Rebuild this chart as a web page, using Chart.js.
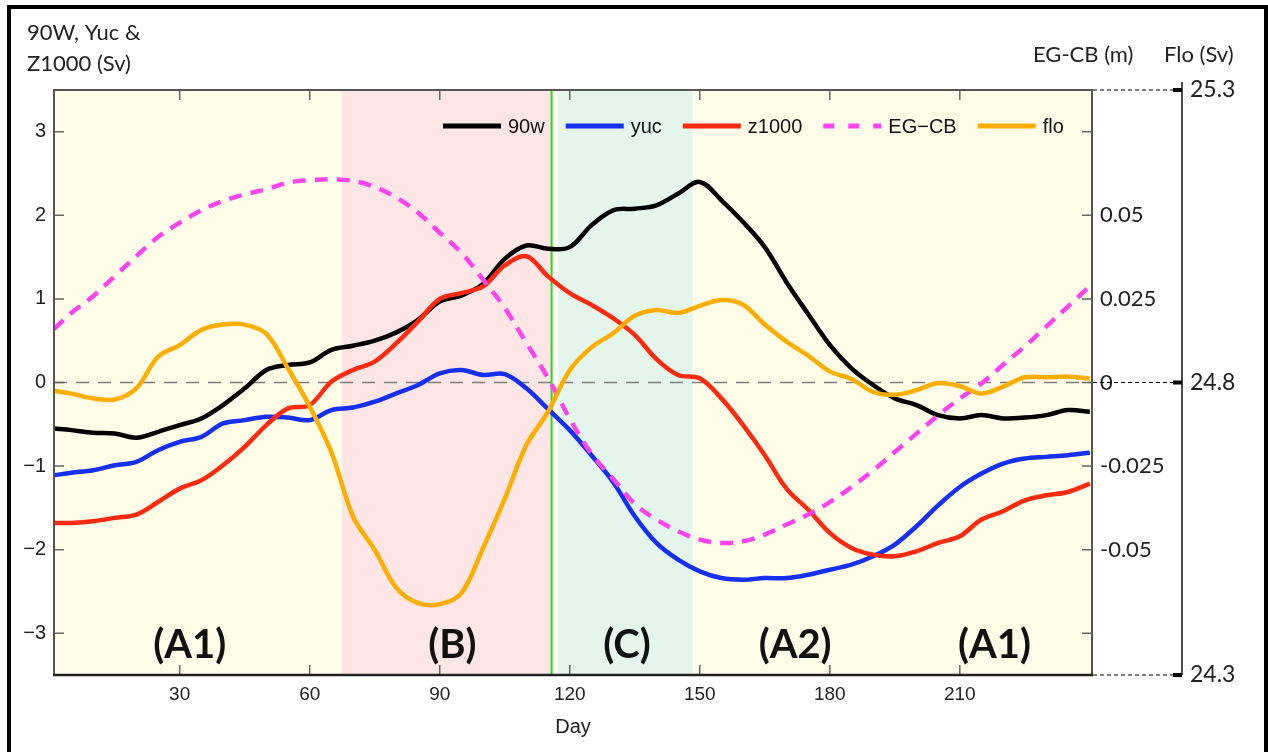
<!DOCTYPE html>
<html>
<head>
<meta charset="utf-8">
<title>90W, Yuc, Z1000, EG-CB and Flo by day</title>
<script src="https://cdn.jsdelivr.net/npm/chart.js@4/dist/chart.umd.min.js"></script>
<style>
  html, body { margin: 0; padding: 0; background: #ffffff; }
  #wrap { width: 1268px; height: 752px; position: relative; }
</style>
</head>
<body>
<div id="wrap"><canvas id="c" width="1268" height="752"></canvas></div>
<script>
// ---- data ----
const days = [1, 5, 10, 15, 20, 25, 30, 35, 40, 45, 50, 55, 60, 65, 70, 75, 80, 85, 90, 95,
  100, 105, 110, 115, 120, 125, 130, 135, 140, 145, 150, 155, 160, 165, 170, 175, 180, 185, 190, 195,
  200, 205, 210, 215, 220, 225, 230, 235, 240];

// transports (Sv)
const w90 = [-0.55, -0.57, -0.60, -0.61, -0.66, -0.59, -0.51, -0.43, -0.27, -0.07, 0.15, 0.21, 0.24, 0.39, 0.44, 0.50, 0.60, 0.75, 0.97, 1.04,
  1.18, 1.48, 1.64, 1.60, 1.62, 1.88, 2.06, 2.08, 2.12, 2.26, 2.40, 2.18, 1.92, 1.62, 1.20, 0.82, 0.45, 0.17, -0.03, -0.19,
  -0.27, -0.39, -0.43, -0.39, -0.43, -0.42, -0.39, -0.33, -0.35];
const yuc = [-1.11, -1.08, -1.05, -0.99, -0.95, -0.81, -0.71, -0.65, -0.49, -0.45, -0.41, -0.42, -0.45, -0.33, -0.30, -0.23, -0.13, -0.03, 0.11, 0.15,
  0.09, 0.10, -0.07, -0.32, -0.57, -0.87, -1.19, -1.60, -1.92, -2.12, -2.26, -2.34, -2.36, -2.34, -2.34, -2.30, -2.24, -2.18, -2.08, -1.94,
  -1.72, -1.47, -1.25, -1.09, -0.97, -0.91, -0.89, -0.87, -0.84];
const z1000 = [-1.68, -1.68, -1.66, -1.62, -1.58, -1.43, -1.27, -1.17, -0.99, -0.77, -0.51, -0.31, -0.27, 0.01, 0.15, 0.25, 0.47, 0.73, 1.00, 1.07,
  1.15, 1.40, 1.51, 1.27, 1.07, 0.93, 0.77, 0.57, 0.28, 0.09, 0.05, -0.19, -0.51, -0.87, -1.27, -1.52, -1.80, -1.98, -2.06, -2.08,
  -2.02, -1.92, -1.84, -1.64, -1.54, -1.41, -1.35, -1.31, -1.21];
// sea level difference (m)
const egcb = [0.0160, 0.0208, 0.0258, 0.0318, 0.0378, 0.0435, 0.0478, 0.0515, 0.0543, 0.0563, 0.0578, 0.0598, 0.0605, 0.0608, 0.0603, 0.0585, 0.0553, 0.0508, 0.0448, 0.0388,
  0.0308, 0.0223, 0.0118, 0.0013, -0.0108, -0.0213, -0.0288, -0.0363, -0.0410, -0.0445, -0.0470, -0.0480, -0.0475, -0.0455, -0.0425, -0.0395, -0.0358, -0.0313, -0.0263, -0.0208,
  -0.0153, -0.0098, -0.0048, -0.0003, 0.0053, 0.0108, 0.0168, 0.0228, 0.0288];
// Florida Current (Sv)
const flo = [24.786, 24.781, 24.773, 24.771, 24.790, 24.844, 24.864, 24.890, 24.899, 24.899, 24.883, 24.824, 24.759, 24.681, 24.571, 24.514, 24.449, 24.423, 24.421, 24.440,
  24.517, 24.601, 24.693, 24.750, 24.821, 24.860, 24.884, 24.914, 24.924, 24.919, 24.931, 24.941, 24.933, 24.899, 24.870, 24.846, 24.819, 24.806, 24.784, 24.779,
  24.787, 24.799, 24.794, 24.781, 24.793, 24.809, 24.809, 24.810, 24.807];

// axes
const dayTicks = [30, 60, 90, 120, 150, 180, 210];
const svTicks = [-3, -2, -1, 0, 1, 2, 3];
const egcbTicks = [-0.075, -0.05, -0.025, 0, 0.025, 0.05, 0.075];
const egcbLabelled = [-0.05, -0.025, 0, 0.025, 0.05];
const floTicks = [24.3, 24.8, 25.3];

// phases (day ranges) and their labels
const phaseNames = ['A1', 'B', 'C', 'A2'];
const phaseStart = [1, 67.4, 117.2, 148.4];
const phaseEnd = [67.4, 116.5, 148.4, 240.5];
const phaseLabels = ['(A1)', '(B)', '(C)', '(A2)', '(A1)'];
const phaseLabelDays = [32.3, 92.9, 133.2, 172, 218];
const markerDay = 115.8;

// ---- styles ----
const phaseColors = { A1: '#fffde8', B: '#ffe6e6', C: '#e4f5ec', A2: '#fffde8' };
const SANS = 'Liberation Sans, Arial, sans-serif';
const CAL = 'Lato, Open Sans, sans-serif';

const pts = vals => days.map((d, i) => ({ x: d, y: vals[i] }));
const fmtSv = v => (v < 0 ? '\u2212' + Math.abs(v) : String(v));

const decor = {
  id: 'decor',
  beforeDatasetsDraw(chart) {
    const { ctx, chartArea: a, scales: { x, y } } = chart;
    ctx.save();
    phaseStart.forEach((s, i) => {
      const x0 = x.getPixelForValue(s), x1 = x.getPixelForValue(phaseEnd[i]);
      ctx.fillStyle = phaseColors[phaseNames[i]];
      ctx.fillRect(x0, a.top, x1 - x0, a.bottom - a.top);
    });
    // zero reference
    const y0 = y.getPixelForValue(0);
    ctx.strokeStyle = '#7d7d7d';
    ctx.lineWidth = 1.5;
    ctx.setLineDash([13, 9]);
    ctx.beginPath(); ctx.moveTo(a.left, y0); ctx.lineTo(a.right, y0); ctx.stroke();
    ctx.setLineDash([]);
    // phase change marker
    const xm = x.getPixelForValue(markerDay);
    ctx.strokeStyle = '#1ee01e';
    ctx.lineWidth = 2;
    ctx.beginPath(); ctx.moveTo(xm, a.top); ctx.lineTo(xm, a.bottom); ctx.stroke();
    ctx.restore();
  },
  afterDatasetsDraw(chart) {
    const { ctx, chartArea: a, scales: { x, y, y3 } } = chart;
    ctx.save();

    // inward tick marks
    ctx.strokeStyle = '#666';
    ctx.lineWidth = 1.5;
    const tl = 10;
    x.ticks.forEach(t => {
      const px = x.getPixelForValue(t.value);
      ctx.beginPath();
      ctx.moveTo(px, a.bottom); ctx.lineTo(px, a.bottom - tl);
      ctx.moveTo(px, a.top); ctx.lineTo(px, a.top + tl);
      ctx.stroke();
    });
    y.ticks.forEach(t => {
      const py = y.getPixelForValue(t.value);
      ctx.beginPath();
      ctx.moveTo(a.left, py); ctx.lineTo(a.left + tl, py);
      ctx.moveTo(a.right, py); ctx.lineTo(a.right - tl, py);
      ctx.stroke();
    });

    // plot box
    ctx.strokeStyle = '#555';
    ctx.lineWidth = 2;
    ctx.beginPath();
    ctx.moveTo(a.left, a.bottom); ctx.lineTo(a.left, a.top); ctx.lineTo(a.right, a.top); ctx.lineTo(a.right, a.bottom);
    ctx.stroke();
    ctx.strokeStyle = '#222';
    ctx.lineWidth = 2.5;
    ctx.beginPath(); ctx.moveTo(a.left - 1, a.bottom); ctx.lineTo(a.right + 1, a.bottom); ctx.stroke();

    // Flo axis: line, ticks and connectors
    const fx = y3.left;
    ctx.strokeStyle = '#111';
    ctx.lineWidth = 1.5;
    ctx.beginPath(); ctx.moveTo(fx, a.top - 8); ctx.lineTo(fx, a.bottom); ctx.stroke();
    y3.ticks.forEach(t => {
      const py = y3.getPixelForValue(t.value);
      ctx.strokeStyle = '#000';
      ctx.lineWidth = 1.2;
      ctx.setLineDash([4, 3]);
      ctx.beginPath(); ctx.moveTo(a.right + 1, py); ctx.lineTo(fx - 8, py); ctx.stroke();
      ctx.setLineDash([]);
      ctx.lineWidth = 4;
      ctx.beginPath(); ctx.moveTo(fx - 9, py); ctx.lineTo(fx, py); ctx.stroke();
    });

    // legend inside the top of the plot
    ctx.font = '20px ' + SANS;
    ctx.textBaseline = 'middle';
    ctx.textAlign = 'left';
    let lx = 443;
    const ly = 126;
    chart.data.datasets.forEach(ds => {
      ctx.strokeStyle = ds.borderColor;
      ctx.lineWidth = 5;
      ctx.setLineDash(ds.borderDash ? [11, 14] : []);
      ctx.beginPath(); ctx.moveTo(lx, ly); ctx.lineTo(lx + 58, ly); ctx.stroke();
      ctx.setLineDash([]);
      ctx.fillStyle = '#111';
      ctx.fillText(ds.label, lx + 65, ly + 1);
      lx += 65 + ctx.measureText(ds.label).width + 21;
    });

    // phase labels
    ctx.font = 'bold 40px ' + CAL;
    ctx.textAlign = 'center';
    ctx.fillStyle = '#111';
    phaseLabels.forEach((lab, i) => {
      ctx.fillText(lab, x.getPixelForValue(phaseLabelDays[i]), 645);
    });

    // axis titles
    ctx.font = '22px ' + CAL;
    ctx.textAlign = 'left';
    ctx.fillStyle = '#222';
    ctx.fillText('90W, Yuc &', 27, 33);
    ctx.fillText('Z1000 (Sv)', 27, 64);
    ctx.fillText('EG-CB (m)', 1033, 55);
    ctx.fillText('Flo (Sv)', 1164, 55);
    ctx.font = '20px ' + SANS;
    ctx.textAlign = 'center';
    ctx.fillText('Day', (a.left + a.right) / 2, 727);

    // outer frame
    ctx.strokeStyle = '#000';
    ctx.lineWidth = 4;
    ctx.beginPath();
    ctx.moveTo(9, 752); ctx.lineTo(9, 7); ctx.lineTo(1266, 7); ctx.lineTo(1266, 752);
    ctx.stroke();
    ctx.restore();
  }
};

const lineStyle = { borderWidth: 4.5, pointRadius: 0, tension: 0.35, fill: false };
const noGrid = { display: false, drawTicks: false, tickLength: 0 };

new Chart(document.getElementById('c'), {
  type: 'line',
  data: {
    datasets: [
      { ...lineStyle, label: '90w', data: pts(w90), yAxisID: 'y', borderColor: '#000000', order: 5 },
      { ...lineStyle, label: 'yuc', data: pts(yuc), yAxisID: 'y', borderColor: '#1530f2', order: 4 },
      { ...lineStyle, label: 'z1000', data: pts(z1000), yAxisID: 'y', borderColor: '#ff2a10', order: 3 },
      { ...lineStyle, label: 'EG\u2212CB', data: pts(egcb), yAxisID: 'y2', borderColor: '#ff44ee', borderDash: [13, 9], order: 2 },
      { ...lineStyle, label: 'flo', data: pts(flo), yAxisID: 'y3', borderColor: '#ffae00', order: 1 }
    ]
  },
  options: {
    responsive: false,
    animation: false,
    events: [],
    layout: { padding: { left: 0, right: 0, top: 90, bottom: 0 } },
    plugins: { legend: { display: false }, tooltip: { enabled: false } },
    scales: {
      x: {
        type: 'linear', min: 1, max: 240.5,
        grid: noGrid, border: { display: false },
        afterBuildTicks: s => { s.ticks = dayTicks.map(v => ({ value: v })); },
        afterFit: s => { s.height = 77; },
        ticks: { font: { family: SANS, size: 19 }, color: '#222', padding: 8, maxRotation: 0, autoSkip: false }
      },
      y: {
        position: 'left', min: -3.5, max: 3.5,
        grid: noGrid, border: { display: false },
        afterBuildTicks: s => { s.ticks = svTicks.map(v => ({ value: v })); },
        afterFit: s => { s.width = 54; },
        ticks: { font: { family: SANS, size: 20 }, color: '#222', padding: 8, callback: v => fmtSv(v) }
      },
      y2: {
        position: 'right', min: -0.0875, max: 0.0875,
        grid: noGrid, border: { display: false },
        afterBuildTicks: s => { s.ticks = egcbTicks.map(v => ({ value: v })); },
        afterFit: s => { s.width = 90; },
        ticks: { font: { family: CAL, size: 22 }, color: '#222', padding: 8,
                 callback: v => (egcbLabelled.includes(v) ? String(v) : '') }
      },
      y3: {
        position: 'right', min: 24.3, max: 25.3,
        grid: noGrid, border: { display: false },
        afterBuildTicks: s => { s.ticks = floTicks.map(v => ({ value: v })); },
        afterFit: s => { s.width = 86; },
        ticks: { font: { family: CAL, size: 23 }, color: '#222', padding: 8, callback: v => v.toFixed(1) }
      }
    }
  },
  plugins: [decor]
});
</script>
</body>
</html>
